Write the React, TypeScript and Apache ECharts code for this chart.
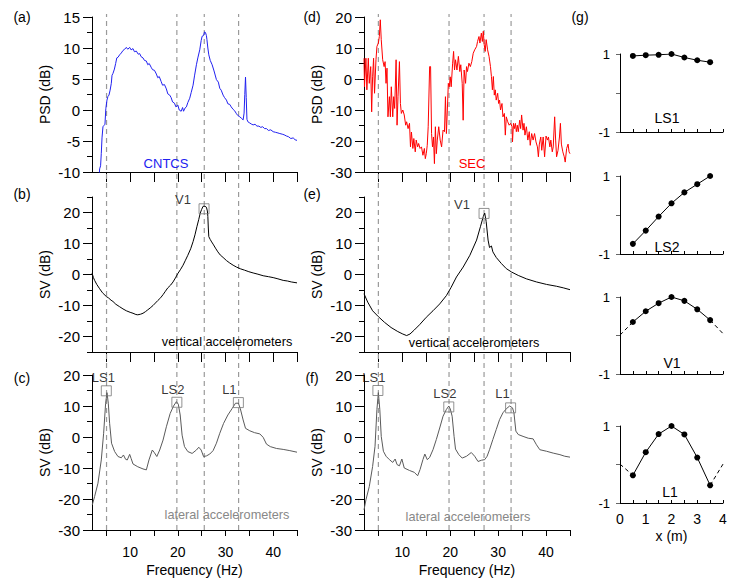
import React, { useEffect, useRef } from 'react';
import * as echarts from 'echarts';

const FONT = "'Liberation Sans', Arial, sans-serif";

// ---------- tick values ----------
const FREQ_TICKS = [5, 10, 15, 20, 25, 30, 35, 40, 45];
const FREQ_LABELS = [10, 20, 30, 40];
const PSD_A_MAJOR = [-10, -5, 0, 5, 10, 15];
const PSD_A_MINOR = [-7.5, -2.5, 2.5, 7.5, 12.5];
const SV_V_MAJOR = [-20, -10, 0, 10, 20];
const SV_V_MINOR = [-25, -15, -5, 5, 15, 25];
const SV_L_MAJOR = [-30, -20, -10, 0, 10, 20];
const SV_L_MINOR = [-25, -15, -5, 5, 15];

// dashed reference frequencies (Hz)
const refFreqLeft = [5.05, 19.8, 25.55, 32.75];
const refFreqRight = [5.0, 19.75, 27.06, 32.7];

// ---------- (a) PSD CNTCS ----------
const psdCNTCS: [number, number][] = [
  [3.5, -10.6], [3.6, -9.5], [3.8, -9.0], [3.95, -7.0], [4.1, -4.5], [4.3, -2.7], [4.5, -2.5], [4.72, -2.3],
  [4.9, 0.2], [5.14, 1.6], [5.35, 2.2], [5.56, 2.4], [5.8, 3.2], [6.05, 4.3], [6.2, 5.6], [6.4, 5.9],
  [6.7, 6.6], [6.96, 7.5], [7.2, 8.4], [7.45, 8.5], [7.8, 8.9], [8.15, 9.2], [8.5, 9.6], [8.85, 9.8],
  [9.2, 10.1], [9.5, 9.8], [9.9, 10.1], [10.2, 9.7], [10.6, 9.9], [10.9, 9.4], [11.3, 9.5], [11.7, 9.0],
  [12.0, 9.1], [12.3, 8.6], [12.7, 8.4], [13.0, 8.0], [13.4, 7.9], [13.7, 7.3], [14.0, 7.5], [14.4, 6.9],
  [14.7, 6.5], [15.1, 6.4], [15.5, 5.8], [15.8, 5.2], [16.1, 5.4], [16.5, 4.6], [16.8, 4.0], [17.2, 4.1],
  [17.6, 3.4], [17.9, 2.6], [18.3, 2.4], [18.6, 2.0], [18.9, 1.3], [19.3, 1.1], [19.6, 0.5], [20.0, 0.8],
  [20.3, 0.0], [20.7, -0.2], [21.0, 0.4], [21.2, -0.2], [21.5, 0.3], [21.8, 0.5], [22.1, 1.2], [22.5, 1.9],
  [22.8, 2.8], [23.2, 4.0], [23.5, 5.5], [23.9, 7.3], [24.2, 8.4], [24.6, 9.7], [24.9, 11.2], [25.1, 11.9],
  [25.4, 12.0], [25.6, 12.6], [25.8, 12.5], [26.0, 12.0], [26.1, 11.4], [26.3, 10.0], [26.5, 8.9], [26.8, 8.0],
  [27.2, 7.3], [27.6, 6.3], [28.1, 4.9], [28.5, 4.5], [28.8, 3.5], [29.1, 3.2], [29.5, 2.4], [29.8, 2.0],
  [30.2, 1.6], [30.5, 1.0], [30.9, 0.9], [31.2, 0.5], [31.6, 0.1], [31.9, -0.1], [32.3, -0.6], [32.6, -0.9],
  [33.0, -1.1], [33.3, -1.3], [33.7, -1.6], [33.9, -0.5], [34.05, 2.5], [34.2, 5.3], [34.35, 2.0], [34.5, -1.5],
  [34.7, -1.9], [35.1, -2.1], [35.5, -2.3], [35.8, -2.4], [36.2, -2.3], [36.6, -2.6], [37.0, -2.6], [37.4, -2.8],
  [37.8, -2.7], [38.2, -3.0], [38.6, -3.0], [39.0, -3.3], [39.5, -3.2], [40.0, -3.5], [40.5, -3.6], [41.0, -3.7],
  [41.4, -3.8], [41.9, -3.9], [42.3, -4.0], [42.8, -4.2], [43.2, -4.3], [43.7, -4.6], [44.2, -4.5], [44.6, -4.8],
  [45, -4.9],
];

// ---------- (b) SV vertical CNTCS ----------
const svVertCNTCS: [number, number][] = [
  [2.0, 0.5], [2.3, -1.0], [2.55, -1.9], [3.0, -3.2], [3.6, -4.6], [4.2, -5.9], [5.0, -7.1], [5.5, -7.6],
  [6.0, -8.3], [6.4, -8.7], [7.0, -9.6], [7.8, -10.4], [8.5, -11.1], [9.2, -11.7], [10.0, -12.2], [10.6, -12.5],
  [11.2, -12.9], [11.6, -13.0], [12.2, -12.8], [12.7, -12.5], [13.2, -12.0], [13.7, -11.4], [14.2, -10.8], [14.8, -10.0],
  [15.3, -9.2], [15.8, -8.4], [16.4, -7.5], [16.9, -6.5], [17.4, -5.4], [17.9, -4.3], [18.5, -3.4], [19.0, -2.4],
  [19.5, -1.1], [20.0, 0.3], [20.6, 1.7], [21.1, 3.0], [21.6, 4.6], [22.1, 6.2], [22.7, 8.3], [23.2, 10.6],
  [23.6, 12.8], [24.0, 15.4], [24.4, 17.8], [24.7, 19.8], [25.0, 21.0], [25.3, 22.0], [25.7, 22.0], [26.0, 21.7],
  [26.2, 20.5], [26.3, 18.7], [26.4, 15.0], [26.5, 12.2], [26.8, 11.3], [27.1, 10.5], [27.4, 9.8], [27.9, 8.5],
  [28.4, 7.3], [28.9, 6.3], [29.5, 5.5], [30.2, 4.5], [30.9, 3.7], [31.6, 3.0], [32.3, 2.4], [33.2, 1.8],
  [34.0, 1.4], [34.9, 0.9], [35.8, 0.5], [36.8, 0.1], [37.9, -0.4], [39.0, -0.7], [40.0, -1.0], [41.0, -1.4],
  [42.1, -1.9], [43.0, -2.1], [43.8, -2.4], [45, -2.7],
];

// ---------- (c) SV lateral CNTCS ----------
const svLatCNTCS: [number, number][] = [
  [2.06, -21.9], [2.55, -19.2], [3.25, -14.9], [3.95, -7.4], [4.44, 1.2], [4.86, 10.9], [5.14, 14.3], [5.42, 10.9],
  [5.7, 4.4], [6.1, -2.0], [6.75, -4.7], [7.45, -6.3], [8.15, -6.7], [8.6, -5.8], [9.05, -7.2], [9.4, -7.4],
  [9.9, -5.6], [10.2, -6.9], [10.6, -8.7], [11.6, -9.6], [12.7, -10.3], [13.4, -10.6], [13.95, -7.4], [14.65, -4.2],
  [15.1, -5.1], [15.6, -6.3], [16.2, -4.2], [16.9, -1.0], [17.6, 3.3], [18.4, 7.6], [19.1, 10.0], [19.7, 11.4],
  [20.1, 10.6], [20.5, 7.1], [20.9, 0.6], [21.4, -3.1], [22.1, -4.7], [23.0, -5.3], [23.9, -4.2], [24.4, -3.3],
  [24.9, -4.2], [25.4, -6.3], [26.0, -6.1], [26.7, -5.5], [27.4, -4.4], [28.1, -2.0], [28.8, 1.2], [29.6, 4.4],
  [30.5, 7.1], [31.4, 9.2], [32.1, 10.9], [32.7, 10.9], [33.1, 9.2], [33.7, 5.5], [34.2, 2.8], [35.1, 2.0],
  [36.1, 1.4], [37.2, 1.0], [37.9, -0.1], [38.6, -2.3], [39.4, -3.1], [40.7, -3.7], [42.1, -4.0], [43.5, -4.4],
  [45, -4.9],
];

// ---------- (d) PSD SEC ----------
const psdSEC: [number, number][] = [
  [2.0, 6.7], [2.1, -2.5], [2.4, 6.7], [2.6, -3.5], [2.9, 6.7], [3.1, -1.4], [3.4, 4.0], [3.6, -10.6],
  [3.8, 0.7], [4.0, 6.7], [4.2, -4.6], [4.5, 6.2], [4.7, 10.5], [5.0, 11.6], [5.2, 13.7], [5.4, 19.1],
  [5.6, 12.7], [5.9, 6.2], [6.2, 4.0], [6.4, 5.6], [6.6, -1.4], [6.8, 3.5], [7.0, -12.2], [7.3, -5.7],
  [7.5, -12.2], [7.7, -2.5], [8.0, -12.2], [8.2, -5.7], [8.4, -9.5], [8.7, 6.2], [8.9, -14.9], [9.1, -5.7],
  [9.4, 5.6], [9.6, -7.9], [9.8, -11.1], [10.1, -10.0], [10.4, -11.6], [10.7, -14.9], [10.9, -13.8], [11.2, -16.0],
  [11.5, -14.3], [11.7, -21.9], [11.9, -17.1], [12.2, -22.4], [12.4, -19.2], [12.7, -23.5], [12.9, -19.7], [13.2, -21.9],
  [13.4, -20.8], [13.7, -22.4], [14.0, -21.9], [14.3, -24.6], [14.6, -22.4], [14.8, -25.7], [15.0, -24.1], [15.2, -21.4],
  [15.4, -15.4], [15.7, 4.0], [15.9, 4.0], [16.1, -17.6], [16.3, -21.9], [16.5, -18.7], [16.7, -27.3], [16.9, -15.4],
  [17.1, -24.1], [17.3, -19.7], [17.6, -15.4], [17.9, -19.7], [18.2, -21.9], [18.5, -16.5], [18.8, -17.0], [19.0, -5.7],
  [19.2, -17.6], [19.4, -10.0], [19.6, -1.4], [19.8, -2.5], [20.0, 0.7], [20.2, -2.5], [20.5, 5.1], [20.7, 8.9],
  [20.9, 2.9], [21.1, 6.2], [21.4, 2.9], [21.7, 7.3], [22.0, 2.4], [22.2, 4.6], [22.5, -1.4], [22.7, -13.3],
  [22.9, 2.9], [23.2, -1.4], [23.4, 4.0], [23.6, 2.4], [23.9, 5.1], [24.2, 4.0], [24.5, 5.6], [24.8, 8.3],
  [25.1, 9.4], [25.5, 10.5], [25.7, 12.1], [26.0, 13.7], [26.2, 11.6], [26.5, 14.8], [26.7, 12.1], [26.9, 15.4],
  [27.1, 11.0], [27.3, 8.9], [27.5, 12.7], [27.8, 9.4], [28.1, 7.3], [28.4, 4.0], [28.6, 0.8], [28.8, -3.5],
  [29.0, 0.8], [29.2, -5.2], [29.4, -3.5], [29.6, -6.8], [29.9, -4.6], [30.1, -7.9], [30.3, -6.8], [30.5, -10.0],
  [30.8, -7.9], [31.0, -12.2], [31.3, -11.1], [31.5, -18.1], [31.7, -12.2], [32.0, -13.8], [32.3, -14.9], [32.6, -14.3],
  [32.9, -15.4], [33.0, -20.3], [33.2, -14.3], [33.4, -16.0], [33.6, -14.3], [33.8, -17.0], [34.0, -14.9], [34.2, -17.0],
  [34.5, -13.3], [34.7, -16.0], [34.9, -11.6], [35.2, -16.5], [35.4, -14.3], [35.6, -18.1], [35.9, -15.4], [36.2, -19.7],
  [36.5, -17.0], [36.7, -21.4], [37.0, -17.6], [37.3, -19.7], [37.6, -17.6], [37.9, -20.3], [38.2, -21.9], [38.4, -25.1],
  [38.6, -21.0], [38.9, -18.7], [39.1, -23.0], [39.4, -18.7], [39.7, -25.1], [40.0, -18.4], [40.3, -19.7], [40.5, -18.7],
  [40.8, -21.9], [41.0, -19.7], [41.3, -23.5], [41.5, -21.9], [41.8, -12.2], [42.0, -19.7], [42.2, -25.1], [42.5, -23.0],
  [42.8, -18.7], [43.0, -14.3], [43.2, -21.0], [43.5, -23.5], [43.8, -25.1], [44.0, -26.8], [44.3, -22.4], [44.6, -21.0],
  [44.8, -23.5], [45.0, -24.1],
];

// ---------- (e) SV vertical SEC ----------
const svVertSEC: [number, number][] = [
  [2.0, -6.2], [2.77, -8.9], [3.8, -11.7], [5.0, -13.6], [6.26, -15.4], [7.65, -17.1], [9.05, -18.4], [10.1, -19.2],
  [10.9, -19.7], [11.6, -19.2], [12.5, -17.9], [13.6, -16.2], [15.0, -13.8], [16.4, -11.7], [17.8, -9.5], [19.2, -6.8],
  [20.2, -4.1], [21.3, -0.8], [22.7, 2.4], [24.1, 6.2], [25.5, 11.1], [26.3, 15.4], [26.9, 18.7], [27.2, 19.8],
  [27.5, 17.1], [27.9, 11.1], [28.2, 8.7], [28.6, 9.2], [28.9, 7.3], [29.6, 5.5], [30.7, 3.5], [31.7, 1.9],
  [32.8, 0.8], [34.2, -0.3], [35.9, -1.4], [38.0, -2.4], [40.1, -3.2], [42.2, -3.8], [43.6, -4.3], [45, -4.9],
];

// ---------- (f) SV lateral SEC ----------
const svLatSEC: [number, number][] = [
  [2.0, -23.5], [2.4, -20.3], [3.1, -16.0], [3.8, -9.5], [4.3, -3.0], [4.7, 8.9], [5.0, 14.3], [5.3, 8.9],
  [5.6, 0.2], [6.05, -4.6], [6.6, -6.2], [7.3, -7.3], [8.0, -8.2], [8.5, -7.1], [8.9, -8.9], [9.4, -9.3],
  [9.9, -7.1], [10.4, -10.0], [11.5, -10.8], [12.5, -11.4], [13.2, -12.5], [13.7, -10.5], [14.3, -7.3], [14.7, -5.5],
  [15.2, -7.3], [15.7, -6.6], [16.4, -4.1], [17.1, -0.8], [17.8, 2.9], [18.5, 6.7], [19.2, 8.9], [19.7, 10.0],
  [20.0, 9.1], [20.4, 6.7], [20.8, 0.2], [21.1, -3.9], [21.8, -5.7], [22.5, -6.8], [23.4, -6.2], [24.4, -5.0],
  [25.1, -6.2], [25.8, -7.9], [26.5, -7.5], [27.2, -7.3], [27.7, -6.2], [28.2, -4.1], [28.9, -0.8], [29.6, 2.4],
  [30.3, 5.6], [31.0, 7.8], [31.7, 9.1], [32.4, 10.0], [33.0, 9.4], [33.3, 7.8], [33.7, 1.9], [34.2, 0.8],
  [35.2, 0.2], [36.3, -0.4], [37.3, -0.6], [38.0, -2.5], [38.7, -4.1], [40.1, -4.6], [41.5, -5.2], [42.9, -5.7],
  [43.9, -6.2], [45, -6.5],
];

// ---------- peak markers ----------
const peakV1_CNTCS: [number, number] = [25.5, 21.2];
const peaksLat_CNTCS: [string, number, number][] = [['LS1', 5.0, 14.9], ['LS2', 19.8, 11.2], ['L1', 32.7, 11.1]];
const peakV1_SEC: [number, number] = [27.06, 19.7];
const peaksLat_SEC: [string, number, number][] = [['LS1', 4.9, 15.0], ['LS2', 19.7, 9.7], ['L1', 32.6, 9.4]];

// ---------- (g) mode shapes ----------
const MODE_X = [0.5, 1, 1.5, 2, 2.5, 3, 3.5];
const modeLS1 = [0.95, 0.97, 0.98, 1.0, 0.91, 0.84, 0.79];
const modeLS2 = [-0.74, -0.4, -0.04, 0.3, 0.58, 0.79, 1.0];
const modeV1 = [0.35, 0.63, 0.84, 1.0, 0.9, 0.68, 0.4];
const modeL1 = [-0.28, 0.32, 0.79, 1.0, 0.78, 0.18, -0.54];
const modeV1Ends: [number, number][] = [[0, 0.01], [4, 0.05]];
const modeL1Ends: [number, number][] = [[0, 0.01], [4, 0.01]];

function buildOption() {
  const grid: any[] = [];
  const xAxis: any[] = [];
  const yAxis: any[] = [];
  const series: any[] = [];
  const graphic: any[] = [];

  const addGrid = (left: number, top: number, width: number, height: number) => {
    grid.push({ left, top, width, height, containLabel: false });
    return grid.length - 1;
  };

  const freqX = (gi: number, showLabels: boolean, tickLen: number) => {
    xAxis.push({
      type: 'value', gridIndex: gi, min: 2, max: 45,
      axisLine: { show: true, onZero: false, lineStyle: { color: '#000', width: 1 } },
      axisTick: { show: true, inside: false, length: tickLen, customValues: FREQ_TICKS, lineStyle: { color: '#000' } },
      axisLabel: { show: showLabels, customValues: FREQ_LABELS, margin: 15, color: '#000', fontSize: 14, fontFamily: FONT },
      splitLine: { show: false },
      name: showLabels ? 'Frequency (Hz)' : '',
      nameLocation: 'middle', nameGap: 33,
      nameTextStyle: { color: '#000', fontSize: 14, fontFamily: FONT },
    });
    return xAxis.length - 1;
  };

  const yPair = (gi: number, min: number, max: number, major: number[], minor: number[], name: string) => {
    yAxis.push({
      type: 'value', gridIndex: gi, min, max, position: 'left',
      axisLine: { show: true, onZero: false, lineStyle: { color: '#000', width: 1 } },
      axisTick: { show: true, inside: false, length: 9, customValues: major, lineStyle: { color: '#000' } },
      axisLabel: { show: true, customValues: major, margin: 12, color: '#000', fontSize: 15, fontFamily: FONT },
      splitLine: { show: false },
      name, nameLocation: 'middle', nameGap: 40,
      nameTextStyle: { color: '#000', fontSize: 14, fontFamily: FONT },
    });
    const main = yAxis.length - 1;
    yAxis.push({
      type: 'value', gridIndex: gi, min, max, position: 'left', offset: 0,
      axisLine: { show: false, onZero: false },
      axisTick: { show: true, inside: false, length: 5, customValues: minor, lineStyle: { color: '#000' } },
      axisLabel: { show: false },
      splitLine: { show: false },
    });
    return main;
  };

  const curve = (xi: number, yi: number, data: [number, number][], color: string) => {
    series.push({
      type: 'line', xAxisIndex: xi, yAxisIndex: yi, data, showSymbol: false, symbol: 'none',
      lineStyle: { color, width: 1 }, z: 3, clip: true, silent: true,
    });
  };

  const boxes = (xi: number, yi: number, items: { name: string; value: [number, number]; off: [number, number] }[]) => {
    series.push({
      type: 'scatter', xAxisIndex: xi, yAxisIndex: yi, symbol: 'rect', symbolSize: [10, 10], z: 4, silent: true,
      itemStyle: { color: 'rgba(0,0,0,0)', borderColor: '#777', borderWidth: 1 },
      data: items.map((it) => ({
        name: it.name, value: it.value,
        label: {
          show: true, formatter: it.name, position: 'inside', offset: it.off,
          color: '#000', fontSize: 13, fontFamily: FONT,
        },
      })),
    });
  };

  // ---- left column ----
  const gA = addGrid(92, 17, 205, 155);
  const xA = freqX(gA, false, 10);
  const yA = yPair(gA, -10, 15, PSD_A_MAJOR, PSD_A_MINOR, 'PSD (dB)');
  curve(xA, yA, psdCNTCS, '#2121f0');

  const gB = addGrid(92, 197, 205, 155);
  const xB = freqX(gB, false, 10);
  const yB = yPair(gB, -25, 25, SV_V_MAJOR, SV_V_MINOR, 'SV (dB)');
  curve(xB, yB, svVertCNTCS, '#000');
  boxes(xB, yB, [{ name: 'V1', value: peakV1_CNTCS, off: [-21, -9] }]);

  const gC = addGrid(92, 375, 205, 155);
  const xC = freqX(gC, true, 6);
  const yC = yPair(gC, -30, 20, SV_L_MAJOR, SV_L_MINOR, 'SV (dB)');
  curve(xC, yC, svLatCNTCS, '#5a5a5a');
  const offC: [number, number][] = [[-3, -13], [-4, -13], [-9, -13]];
  boxes(xC, yC, peaksLat_CNTCS.map((p, i) => ({ name: p[0], value: [p[1], p[2]] as [number, number], off: offC[i] })));

  // ---- right column ----
  const gD = addGrid(364, 17, 206, 155);
  const xD = freqX(gD, false, 10);
  const yD = yPair(gD, -30, 20, SV_L_MAJOR, SV_L_MINOR, 'PSD (dB)');
  curve(xD, yD, psdSEC, '#ff0000');

  const gE = addGrid(364, 197, 206, 155);
  const xE = freqX(gE, false, 10);
  const yE = yPair(gE, -25, 25, SV_V_MAJOR, SV_V_MINOR, 'SV (dB)');
  curve(xE, yE, svVertSEC, '#000');
  boxes(xE, yE, [{ name: 'V1', value: peakV1_SEC, off: [-22, -9] }]);

  const gF = addGrid(364, 375, 206, 155);
  const xF = freqX(gF, true, 6);
  const yF = yPair(gF, -30, 20, SV_L_MAJOR, SV_L_MINOR, 'SV (dB)');
  curve(xF, yF, svLatSEC, '#5a5a5a');
  const offF: [number, number][] = [[-4, -13], [-4, -13], [-8, -14]];
  boxes(xF, yF, peaksLat_SEC.map((p, i) => ({ name: p[0], value: [p[1], p[2]] as [number, number], off: offF[i] })));

  // ---- dashed reference lines (overlay grids spanning the three panels) ----
  const overlay = (left: number, width: number, freqs: number[]) => {
    const gi = addGrid(left, 14, width, 516);
    xAxis.push({ type: 'value', gridIndex: gi, min: 2, max: 45, show: false });
    const xi = xAxis.length - 1;
    yAxis.push({ type: 'value', gridIndex: gi, min: 0, max: 1, show: false });
    const yi = yAxis.length - 1;
    freqs.forEach((f) => {
      series.push({
        type: 'line', xAxisIndex: xi, yAxisIndex: yi, data: [[f, 0], [f, 1]], symbol: 'none', z: 1, silent: true,
        lineStyle: { color: '#9a9a9a', width: 1.2, type: [5, 4] },
      });
    });
  };
  overlay(92, 205, refFreqLeft);
  overlay(364, 206, refFreqRight);

  // ---- (g) mode shapes ----
  const modePanel = (top: number, height: number, vals: number[], bottom: boolean, ends?: [number, number][]) => {
    const gi = addGrid(620, top, 103, height);
    xAxis.push({
      type: 'value', gridIndex: gi, min: 0, max: 4, interval: 0.5,
      axisLine: { show: true, onZero: false, lineStyle: { color: '#000', width: 1 } },
      axisTick: { show: true, inside: true, length: 3, lineStyle: { color: '#000' } },
      axisLabel: {
        show: bottom, margin: 9, color: '#000', fontSize: 14, fontFamily: FONT,
        formatter: (v: number) => (Number.isInteger(v) ? String(v) : ''),
      },
      splitLine: { show: false },
      name: bottom ? 'x (m)' : '', nameLocation: 'middle', nameGap: 26,
      nameTextStyle: { color: '#000', fontSize: 14, fontFamily: FONT },
    });
    const xi = xAxis.length - 1;
    yAxis.push({
      type: 'value', gridIndex: gi, min: -1, max: 1, interval: 1,
      axisLine: { show: true, onZero: false, lineStyle: { color: '#000', width: 1 } },
      axisTick: { show: true, inside: false, length: 4, lineStyle: { color: '#666' } },
      axisLabel: {
        show: true, margin: 10, color: '#000', fontSize: 13, fontFamily: FONT,
        formatter: (v: number) => (v === 0 ? '' : String(v)),
      },
      splitLine: { show: false },
    });
    const yi = yAxis.length - 1;
    series.push({
      type: 'line', xAxisIndex: xi, yAxisIndex: yi, data: MODE_X.map((x, i) => [x, vals[i]]),
      symbol: 'circle', symbolSize: 6, showSymbol: true, z: 3, silent: true,
      itemStyle: { color: '#000' }, lineStyle: { color: '#000', width: 1 },
    });
    if (ends) {
      const first: [number, number] = [MODE_X[0], vals[0]];
      const last: [number, number] = [MODE_X[MODE_X.length - 1], vals[vals.length - 1]];
      [[ends[0], first], [last, ends[1]]].forEach((seg) => {
        series.push({
          type: 'line', xAxisIndex: xi, yAxisIndex: yi, data: seg, symbol: 'none', z: 2, silent: true,
          lineStyle: { color: '#000', width: 1, type: [4, 3] },
        });
      });
    }
  };
  modePanel(54, 78, modeLS1, false);
  modePanel(176, 78, modeLS2, false);
  modePanel(297, 77, modeV1, false, modeV1Ends);
  modePanel(426, 77, modeL1, true, modeL1Ends);

  // ---- annotations ----
  const txt = (text: string, x: number, y: number, size: number, fill = '#000') => {
    graphic.push({
      type: 'text', x, y, silent: true, z: 10,
      style: { text, fill, fontSize: size, fontFamily: FONT, align: 'center', verticalAlign: 'middle' },
    });
  };
  txt('(a)', 22, 17, 14);
  txt('(b)', 22, 194, 14);
  txt('(c)', 22, 378, 14);
  txt('(d)', 312, 17, 14);
  txt('(e)', 312, 194, 14);
  txt('(f)', 312, 378, 14);
  txt('(g)', 580, 17, 14);
  txt('CNTCS', 166, 163, 13, '#2121f0');
  txt('SEC', 472, 163, 13, '#ff0000');
  txt('vertical accelerometers', 227, 342, 12.7);
  txt('vertical accelerometers', 474, 343, 12.7);
  txt('lateral accelerometers', 227, 515, 12.7, '#888');
  txt('lateral accelerometers', 468, 517, 12.7, '#888');
  txt('LS1', 667, 118, 14);
  txt('LS2', 667, 247, 14);
  txt('V1', 672, 363, 14);
  txt('L1', 670, 492, 14);

  return {
    animation: false,
    backgroundColor: '#fff',
    textStyle: { fontFamily: FONT },
    grid, xAxis, yAxis, series, graphic,
  };
}

export default function App() {
  const ref = useRef<HTMLDivElement>(null);
  useEffect(() => {
    document.body.style.margin = '0';
    const chart = echarts.init(ref.current!, null, { renderer: 'svg' });
    chart.setOption(buildOption() as any);
    return () => chart.dispose();
  }, []);
  return <div ref={ref} style={{ width: 746, height: 587 }} />;
}
